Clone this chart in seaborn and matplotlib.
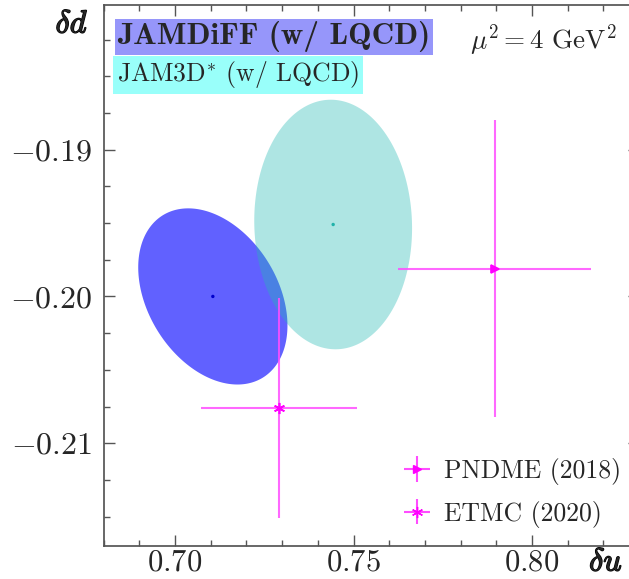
import numpy as np
import pandas as pd
import matplotlib
matplotlib.use("Agg")
import matplotlib.pyplot as plt
import matplotlib.patheffects as pe
from matplotlib.ticker import MultipleLocator, FuncFormatter
import seaborn as sns

# ---- data ----
ell_names = ["JAMDiFF (w/ LQCD)", "JAM3D* (w/ LQCD)"]
ell_du = [0.7106, 0.7443]          # centre delta u
ell_dd = [-0.2000, -0.1951]        # centre delta d
ell_half_du = [0.0209, 0.0221]     # half extent in delta u
ell_half_dd = [0.0060, 0.0085]     # half extent in delta d
ell_rho = [-0.33, -0.03]           # correlation

lqcd_names = ["PNDME (2018)", "ETMC (2020)"]
lqcd_du = [0.7895, 0.7291]
lqcd_du_err = [0.0270, 0.0219]
lqcd_dd = [-0.1981, -0.2076]
lqcd_dd_err = [0.0101, 0.0075]

sns.set_theme(style="ticks")
plt.rcParams.update({
    "font.family": ["cmr10", "DejaVu Serif"],
    "mathtext.fontset": "cm",
    "axes.formatter.use_mathtext": True,
    "axes.unicode_minus": True,
})

fig = plt.figure(figsize=(6.29, 5.79), dpi=100)
ax = fig.add_axes([0.1647, 0.0570, 0.8514, 0.9343])

ell_colors = [(0.0, 0.0, 1.0), (0.14, 0.73, 0.71)]
ell_alpha = [0.62, 0.37]
dot_colors = ["#0000cc", "#20b2aa"]
t = np.linspace(0, 2 * np.pi, 400)
for i in range(2):
    xs = ell_du[i] + ell_half_du[i] * np.cos(t)
    ys = ell_dd[i] + ell_half_dd[i] * (ell_rho[i] * np.cos(t) + np.sqrt(1 - ell_rho[i] ** 2) * np.sin(t))
    ax.fill(xs, ys, color=ell_colors[i], alpha=ell_alpha[i], lw=0, zorder=2 + i)

cen = pd.DataFrame({"du": ell_du, "dd": ell_dd, "name": ell_names})
sns.scatterplot(data=cen, x="du", y="dd", hue="name", palette=dot_colors, s=6,
                edgecolor="none", legend=False, ax=ax, zorder=5)

mag = (1.0, 0.3, 1.0)
markers = [">", (6, 2, 0)]
msizes = [6, 8]
for i in range(2):
    ax.errorbar(lqcd_du[i], lqcd_dd[i], xerr=lqcd_du_err[i], yerr=lqcd_dd_err[i],
                fmt="none", ecolor=mag, elinewidth=1.5, alpha=0.85, zorder=6)
    ax.plot(lqcd_du[i], lqcd_dd[i], marker=markers[i], ms=msizes[i], color="magenta",
            mew=1.2, ls="none", zorder=7)

handles = []
for i in range(2):
    h = ax.errorbar([np.nan], [np.nan], xerr=[0.01], yerr=[0.01], marker=markers[i], ms=msizes[i],
                    color="magenta", ecolor=mag, elinewidth=1.5, ls="none", label=lqcd_names[i])
    handles.append(h)
ax.legend(handles=handles, loc="lower right", frameon=False, fontsize=18.5,
          handlelength=1.0, handletextpad=0.55, labelspacing=0.6,
          borderaxespad=0.0, bbox_to_anchor=(0.985, 0.015))

ax.set_xlim(0.68, 0.83)
ax.set_ylim(-0.217, -0.18015)
ax.xaxis.set_major_locator(MultipleLocator(0.05))
ax.xaxis.set_minor_locator(MultipleLocator(0.01))
ax.yaxis.set_major_locator(MultipleLocator(0.01))
ax.yaxis.set_minor_locator(MultipleLocator(0.0025))
ax.xaxis.set_major_formatter(FuncFormatter(lambda v, p: f"${v:.2f}$"))
ax.yaxis.set_major_formatter(FuncFormatter(lambda v, p: f"${v:.2f}$"))
ax.tick_params(which="both", direction="in", top=True, right=True, labelsize=22, color="#555555")
ax.tick_params(which="major", length=8, width=1)
ax.tick_params(which="minor", length=4, width=1)
ax.tick_params(axis="x", which="major", pad=2)
ax.tick_params(axis="y", which="major", pad=8, labelsize=23)
ax.set_xlabel("")
ax.set_ylabel("")
for s in ax.spines.values():
    s.set_color("#555555")

# labels
fig.text(117 / 629, 1 - 37 / 579, "JAMDiFF (w/ LQCD)", fontfamily="cmb10", fontsize=22.5,
         va="center", ha="left",
         bbox=dict(boxstyle="square,pad=0.08", fc=(0.59, 0.59, 0.98), ec="none"))
fig.text(117 / 629, 1 - 75 / 579, r"JAM3D$^{*}$ (w/ LQCD)", fontsize=18.5, va="center", ha="left",
         bbox=dict(boxstyle="square,pad=0.14", fc=(0.6, 1.0, 0.98), ec="none"))
fig.text(470 / 629, 1 - 40 / 579, r"$\mu^2 = 4\ \mathrm{GeV}^2$", fontsize=19.5, va="center", ha="left")

bold = [pe.withStroke(linewidth=1.0, foreground="black")]
fig.text(72 / 629, 1 - 25 / 579, r"$\delta d$", fontsize=23, ha="center", va="center", path_effects=bold)
fig.text(606 / 629, 1 - 563 / 579, r"$\delta u$", fontsize=23, ha="center", va="center", path_effects=bold)

fig.savefig("out.png", dpi=100)
